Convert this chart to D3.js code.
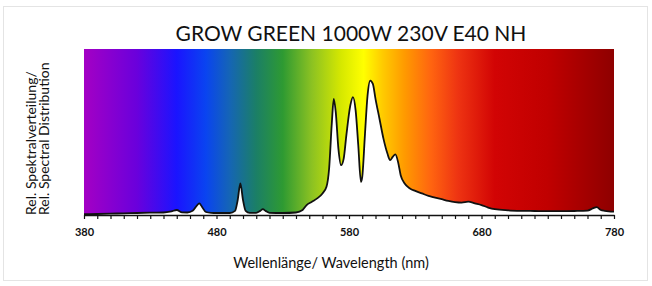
<!DOCTYPE html>
<html>
<head>
<meta charset="utf-8">
<script src="https://cdn.jsdelivr.net/npm/d3@7"></script>
<style>
  html, body { margin: 0; padding: 0; background: #fff; }
  svg text { font-family: Lato, "Open Sans", sans-serif; fill: #111; }
</style>
</head>
<body>
<script>
// spectrum readings, wavelength (nm) and relative intensity (0..100)
var wavelengths = [380, 390, 400, 410, 420, 430, 440, 446, 450, 454, 458, 462, 465, 467, 469, 472, 476, 480,
  490, 494, 496, 498, 500, 502, 505, 510, 513, 515, 517, 520, 530, 540, 545, 548, 552, 556, 560, 563, 565,
  567, 568.5, 570, 572, 574, 576, 578, 581, 583, 585, 587, 589, 590, 592, 594, 596, 598, 600, 603, 606,
  609, 611, 613, 615, 617, 619, 622, 626, 630, 635, 640, 645, 650, 655, 660, 665, 670, 675, 680, 685,
  690, 700, 710, 720, 730, 740, 750, 760, 764, 767, 770, 773, 776, 780];
var intensity = [0.5, 0.6, 0.8, 1.0, 1.2, 1.4, 1.5, 2.2, 3, 1.6, 1.5, 2.5, 5.5, 7, 5, 1.8, 1.3, 1.2,
  1.2, 2.5, 9, 19, 9, 2.5, 1.3, 1.3, 2.5, 3.5, 2.5, 1.3, 1.2, 1.5, 3, 6, 8, 10, 13, 17, 28,
  55, 70, 62, 40, 30, 34, 48, 66, 71, 63, 42, 20, 23, 48, 72, 81, 79, 70, 58, 46,
  37, 33, 35, 36.5, 32, 24, 19, 16, 14.5, 13, 11.5, 10.5, 9.5, 8.5, 7.8, 7.5, 8, 7, 6, 4.5,
  3.5, 2.8, 2.5, 2.4, 2.3, 2.3, 2.4, 2.6, 4, 4.8, 3, 2.5, 2.2, 2];
var tickLabels = [380, 480, 580, 680, 780];
var gradientNm = [380, 420, 450, 472, 490, 510, 530, 552, 574, 591, 605, 622, 642, 662, 690, 730, 780];
var gradientColors = ["#a400c4", "#6a00dc", "#1a14ff", "#0a44f0", "#1565b5", "#1b7f66", "#2e9a32", "#8cc222",
  "#d6e800", "#ffff00", "#ffcc00", "#ff9a00", "#ff6410", "#ee3412", "#d20404", "#c00000", "#8e0000"];

(function drawChart() {
    var W = 652, H = 286,
        m = { left: 84, right: 614, top: 49, bottom: 215 };

    var svg = d3.select("body").append("svg")
        .attr("width", W)
        .attr("height", H);

    // faint frame round the picture
    svg.append("rect")
        .attr("x", 3.5).attr("y", 6.5)
        .attr("width", 644).attr("height", 274)
        .attr("fill", "none")
        .attr("stroke", "#e4e4e4");

    var x = d3.scaleLinear().domain([380, 780]).range([m.left, m.right]);
    var y = d3.scaleLinear().domain([0, 100]).range([m.bottom, m.top]);

    var grad = svg.append("defs").append("linearGradient")
        .attr("id", "spec")
        .attr("x1", "0").attr("x2", "1").attr("y1", "0").attr("y2", "0");
    gradientNm.forEach(function (nm, i) {
        grad.append("stop")
            .attr("offset", (nm - 380) / 400)
            .attr("stop-color", gradientColors[i]);
    });

    svg.append("rect")
        .attr("x", x(380)).attr("y", y(100))
        .attr("width", x(780) - x(380))
        .attr("height", y(0) - y(100))
        .attr("fill", "url(#spec)");

    var pts = wavelengths.map(function (w, i) { return [w, intensity[i]]; });

    svg.append("path")
        .datum(pts)
        .attr("fill", "#fff")
        .attr("d", d3.area()
            .x(function (d) { return x(d[0]); })
            .y0(y(0))
            .y1(function (d) { return y(d[1]); })
            .curve(d3.curveMonotoneX));

    svg.append("path")
        .datum(pts)
        .attr("fill", "none")
        .attr("stroke", "#111")
        .attr("stroke-width", 1.8)
        .attr("stroke-linejoin", "round")
        .attr("d", d3.line()
            .x(function (d) { return x(d[0]); })
            .y(function (d) { return y(d[1]); })
            .curve(d3.curveMonotoneX));

    // x axis, ticks every 10 nm, labels every 100
    var axis = svg.append("g")
        .attr("transform", "translate(0," + m.bottom + ")")
        .call(d3.axisBottom(x)
            .tickValues(d3.range(380, 781, 10))
            .tickSize(4)
            .tickSizeOuter(0)
            .tickFormat(function (d) { return tickLabels.indexOf(d) >= 0 ? d : ""; }));
    axis.select(".domain").attr("stroke", "#111").attr("stroke-width", 1.6);
    axis.selectAll(".tick line").attr("stroke", "#111").attr("stroke-width", 1.2);
    axis.selectAll(".tick text")
        .attr("y", 13)
        .style("font-family", "Lato, sans-serif")
        .style("font-size", "11px")
        .style("font-weight", "bold")
        .attr("fill", "#222");

    svg.append("text")
        .attr("x", 351).attr("y", 41)
        .attr("text-anchor", "middle")
        .style("font-size", "21px")
        .text("GROW GREEN 1000W 230V E40 NH");

    svg.append("text")
        .attr("x", 331).attr("y", 268)
        .attr("text-anchor", "middle")
        .style("font-size", "14.5px")
        .text("Wellenlänge/ Wavelength (nm)");

    [["Rel. Spektralverteilung/", 36], ["Rel. Spectral Distribution", 49]].forEach(function (l) {
        svg.append("text")
            .attr("transform", "translate(" + l[1] + "," + m.bottom + ") rotate(-90)")
            .attr("text-anchor", "start")
            .style("font-size", "14px")
            .text(l[0]);
    });
})();
</script>
</body>
</html>
